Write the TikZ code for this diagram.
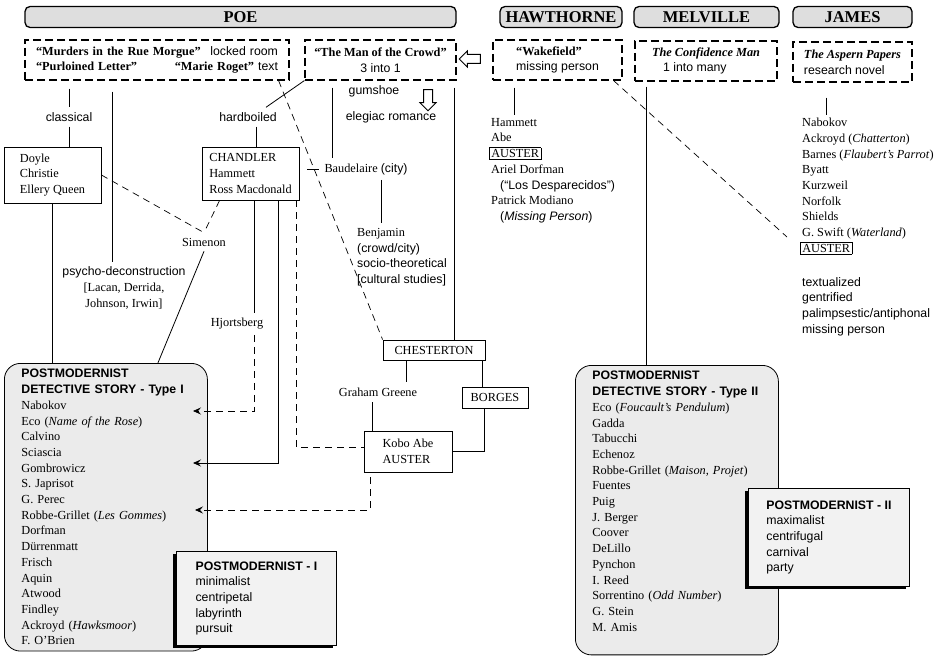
\documentclass[tikz,border=0pt]{standalone}
\usepackage{fontspec}
\setmainfont{Liberation Serif}
\setsansfont{Liberation Sans}
\usepackage{tikz}
\usetikzlibrary{arrows.meta, positioning, shapes.arrows, shadows}
\usepackage{xcolor}
\definecolor{hdrgray}{gray}{0.87}
\definecolor{boxgray}{gray}{0.92}
\definecolor{notegray}{gray}{0.95}
\newcommand{\bodyfont}{\fontsize{12.3}{15.7}\selectfont}
\setlength{\fboxsep}{1.5pt}
\setlength{\fboxrule}{0.6pt}
\tikzset{
  every node/.style={font=\bodyfont},
  hdr/.style={draw, line width=1.3pt, rounded corners=5pt, fill=hdrgray, minimum height=21pt, inner sep=0pt, font=\fontsize{16.5}{18}\selectfont\bfseries},
  dbox/.style={draw, line width=1.1pt, dash pattern=on 8pt off 4pt, minimum height=40pt, align=left, inner sep=2pt},
  sbox/.style={draw, line width=0.8pt, align=left, inner sep=3pt},
  tbox/.style={draw, line width=0.8pt, rounded corners=16pt, fill=boxgray, align=left, anchor=north west, inner xsep=17pt, inner ysep=6pt, text width=169pt},
  nbox/.style={draw, line width=0.8pt, fill=notegray, align=left, anchor=north west, inner xsep=5pt, inner ysep=7pt, font=\bodyfont\sffamily, drop shadow={shadow xshift=-3pt, shadow yshift=-3pt, opacity=1, fill=black}},
  lbl/.style={inner sep=5pt},
  sflbl/.style={lbl, font=\bodyfont\sffamily},
  list/.style={align=left, anchor=north west, inner sep=3pt},
  conn/.style={line width=0.8pt},
  dconn/.style={line width=0.7pt, dash pattern=on 7pt off 5pt},
  arr/.style={-{Stealth[length=8pt,width=7pt,inset=3pt]}},
  hollow/.style={single arrow, draw, line width=1pt, minimum height=21pt, minimum width=15pt, single arrow head extend=3.5pt, inner sep=4pt}
}
\begin{document}
\begin{tikzpicture}[x=1pt, y=-1pt]
  \useasboundingbox (0,0) rectangle (947,658);
  % authors
  \node[hdr, minimum width=431pt] (poe) at (240.5,17) {POE};
  \node[hdr, minimum width=122pt] (haw) at (561,17) {HAWTHORNE};
  \node[hdr, minimum width=145pt] (mel) at (706.5,17) {MELVILLE};
  \node[hdr, minimum width=119pt] (jam) at (852.5,17) {JAMES};
  % the tales
  \node[dbox, minimum width=264pt, text width=242pt] (rue) at (157,60)
    {\textbf{“Murders in the Rue Morgue”}\hfill{\sffamily locked room}\\
     \textbf{“Purloined Letter”}\hfill\textbf{“Marie Roget”}\ {\sffamily text}};
  \node[dbox, minimum width=151pt, align=center] (crowd) at (380.5,60)
    {\textbf{“The Man of the Crowd”}\\{\sffamily 3 into 1}};
  \node[dbox, minimum width=129pt] (wake) at (557.5,60)
    {\textbf{“Wakefield”}\\{\sffamily missing person}};
  \node[dbox, minimum width=142pt] (conf) at (706,61)
    {\textbf{\textit{The Confidence Man}}\\\hspace*{11pt}{\sffamily 1 into many}};
  \node[dbox, minimum width=119pt] (asp) at (852.5,62)
    {\textbf{\textit{The Aspern Papers}}\\{\sffamily research novel}};
  \node[hollow, shape border rotate=180] (back) at (472,59) {};
  \node[hollow, shape border rotate=270] (down) at (428,98) {};
  % poe branches
  \node[sflbl] (classical) at (69,117) {classical};
  \node[sflbl] (hardb) at (248,117) {hardboiled};
  \node[sflbl] (gum) at (374,91) {gumshoe};
  \node[sflbl] (elegiac) at (391,117) {elegiac romance};
  \node[sbox, minimum width=97pt, minimum height=56pt] (doyle) at (52.5,175)
    {Doyle\\Christie\\Ellery Queen};
  \node[sbox, minimum width=97pt, minimum height=53pt] (chandler) at (250.5,173.5)
    {CHANDLER\\Hammett\\Ross Macdonald};
  \node[lbl] (baud) at (366,169) {Baudelaire {\sffamily (city)}};
  \node[lbl, align=left, anchor=north west] (benj) at (352,223)
    {Benjamin\\{\sffamily (crowd/city)}\\{\sffamily socio-theoretical}\\{\sffamily {[}cultural studies]}};
  \node[lbl] (simenon) at (204,242) {Simenon};
  \node[lbl, align=center] (psy) at (124,288)
    {{\sffamily psycho-deconstruction}\\{[}Lacan, Derrida,\\Johnson, Irwin]};
  \node[lbl] (hjort) at (237,324) {Hjortsberg};
  \node[sbox, minimum width=102pt, minimum height=20pt] (chest) at (434,350) {CHESTERTON};
  \node[lbl] (graham) at (378,392) {Graham Greene};
  \node[sbox, minimum width=66pt, minimum height=21pt] (borges) at (495,397.5) {BORGES};
  \node[sbox, minimum width=88pt, minimum height=41pt] (kobo) at (408,451.5) {Kobo Abe\\AUSTER};
  % hawthorne and james lists
  \node[list] (hlist) at (488,115)
    {Hammett\\Abe\\\hspace*{-2pt}\fbox{AUSTER}\\Ariel Dorfman\\
     \hspace*{9pt}{\sffamily (“Los Desparecidos”)}\\Patrick Modiano\\
     \hspace*{9pt}{\sffamily (\textit{Missing Person})}};
  \node[list] (jlist) at (799,115)
    {Nabokov\\Ackroyd (\textit{Chatterton})\\Barnes (\textit{Flaubert’s Parrot})\\Byatt\\
     Kurzweil\\Norfolk\\Shields\\G. Swift (\textit{Waterland})\\\hspace*{-2pt}\fbox{AUSTER}};
  \node[list, font=\bodyfont\sffamily] (jtraits) at (799,274)
    {textualized\\gentrified\\palimpsestic/antiphonal\\missing person};
  % the two types
  \node[tbox] (typeI) at (4,363)
    {\textbf{\sffamily POSTMODERNIST}\\\textbf{\sffamily DETECTIVE STORY - Type I}\\
     Nabokov\\Eco (\textit{Name of the Rose})\\Calvino\\Sciascia\\Gombrowicz\\S. Japrisot\\
     G. Perec\\Robbe-Grillet (\textit{Les Gommes})\\Dorfman\\Dürrenmatt\\Frisch\\Aquin\\
     Atwood\\Findley\\Ackroyd (\textit{Hawksmoor})\\F. O’Brien};
  \node[tbox] (typeII) at (575,365)
    {\textbf{\sffamily POSTMODERNIST}\\\textbf{\sffamily DETECTIVE STORY - Type II}\\
     Eco (\textit{Foucault’s Pendulum})\\Gadda\\Tabucchi\\Echenoz\\
     Robbe-Grillet (\textit{Maison, Projet})\\Fuentes\\Puig\\J. Berger\\Coover\\DeLillo\\
     Pynchon\\I. Reed\\Sorrentino (\textit{Odd Number})\\G. Stein\\M. Amis\\[2pt]\mbox{}};
  \node[nbox, minimum width=160pt, minimum height=94pt] (pmI) at (176,551)
    {\textbf{POSTMODERNIST - I}\\minimalist\\centripetal\\labyrinth\\pursuit};
  \node[nbox, minimum width=161pt, minimum height=98pt] (pmII) at (748,488)
    {\textbf{POSTMODERNIST - II}\\maximalist\\centrifugal\\carnival\\party};
  % arrow targets in the type I list
  \coordinate (tNab) at (193,411);
  \coordinate (tSci) at (193,463);
  \coordinate (tPer) at (195,510);
  \coordinate (tSwift) at (787,237);
  % connectors
  \draw[conn, shorten <=8pt] (classical.north |- rue.south) -- (classical.north);
  \draw[conn] (classical.south) -- (classical.south |- doyle.north);
  \draw[conn, shorten <=11pt] ([xshift=-12pt]psy.north |- rue.south) -- ([xshift=-12pt]psy.north);
  \draw[conn] (doyle.south) -- (doyle.south |- typeI.north);
  \draw[dconn] (doyle.east) -- (simenon.north);
  \draw[dconn] ([xshift=18pt]chandler.south west) -- (simenon.north);
  \draw[conn] (simenon.south) -- ([xshift=52pt]typeI.north);
  \draw[conn] (crowd.south west) -- ([xshift=18pt]hardb.north);
  \draw[conn] ([xshift=6pt]chandler.north |- hardb.south) -- ([xshift=6pt]chandler.north);
  \draw[conn] ([xshift=4pt]chandler.south) -- ([xshift=4pt]chandler.south |- hjort.north);
  \draw[dconn, arr] ([xshift=4pt]chandler.south |- hjort.south) |- (tNab);
  \draw[conn, arr] ([xshift=28pt]chandler.south) |- (tSci);
  \draw[dconn] ([xshift=46pt]chandler.south) |- ([yshift=4pt]kobo.west);
  \draw[dconn, arr, shorten <=5pt] ([xshift=-38pt]kobo.south) |- (tPer);
  \draw[dconn] ([xshift=-11pt]rue.south east) -- (chest.north west);
  \draw[conn, shorten <=7pt] ([xshift=-34pt]baud.north |- crowd.south) -- ([xshift=-34pt]baud.north);
  \draw[conn] ([xshift=-12pt]baud.west) -- (baud.west);
  \draw[conn] ([xshift=15pt]baud.south) -- ([xshift=15pt]baud.south |- benj.north);
  \draw[conn, shorten <=7pt] ([xshift=-2pt]crowd.south east) -- ([xshift=-2pt]crowd.south east |- chest.north);
  \draw[conn] ([xshift=-28pt]chest.south) -- ([xshift=-28pt]chest.south |- graham.north);
  \draw[conn] ([xshift=-36pt]kobo.north) -- ([xshift=-36pt]kobo.north |- graham.south);
  \draw[conn] ([xshift=-3pt]chest.south east) -- ([xshift=-3pt]chest.south east |- borges.north);
  \draw[conn] ([xshift=-11pt]borges.south) |- (kobo.east);
  \draw[conn, shorten <=7pt] ([xshift=-43pt]wake.south) -- ([xshift=-43pt]wake.south |- hlist.north);
  \draw[dconn] ([xshift=-9pt]wake.south east) -- (tSwift);
  \draw[conn, shorten <=5pt] ([xshift=-60pt]conf.south) -- ([xshift=-60pt]conf.south |- typeII.north);
  \draw[conn, shorten <=15pt] ([xshift=-26pt]asp.south) -- ([xshift=-26pt]asp.south |- jlist.north);
\end{tikzpicture}
\end{document}
